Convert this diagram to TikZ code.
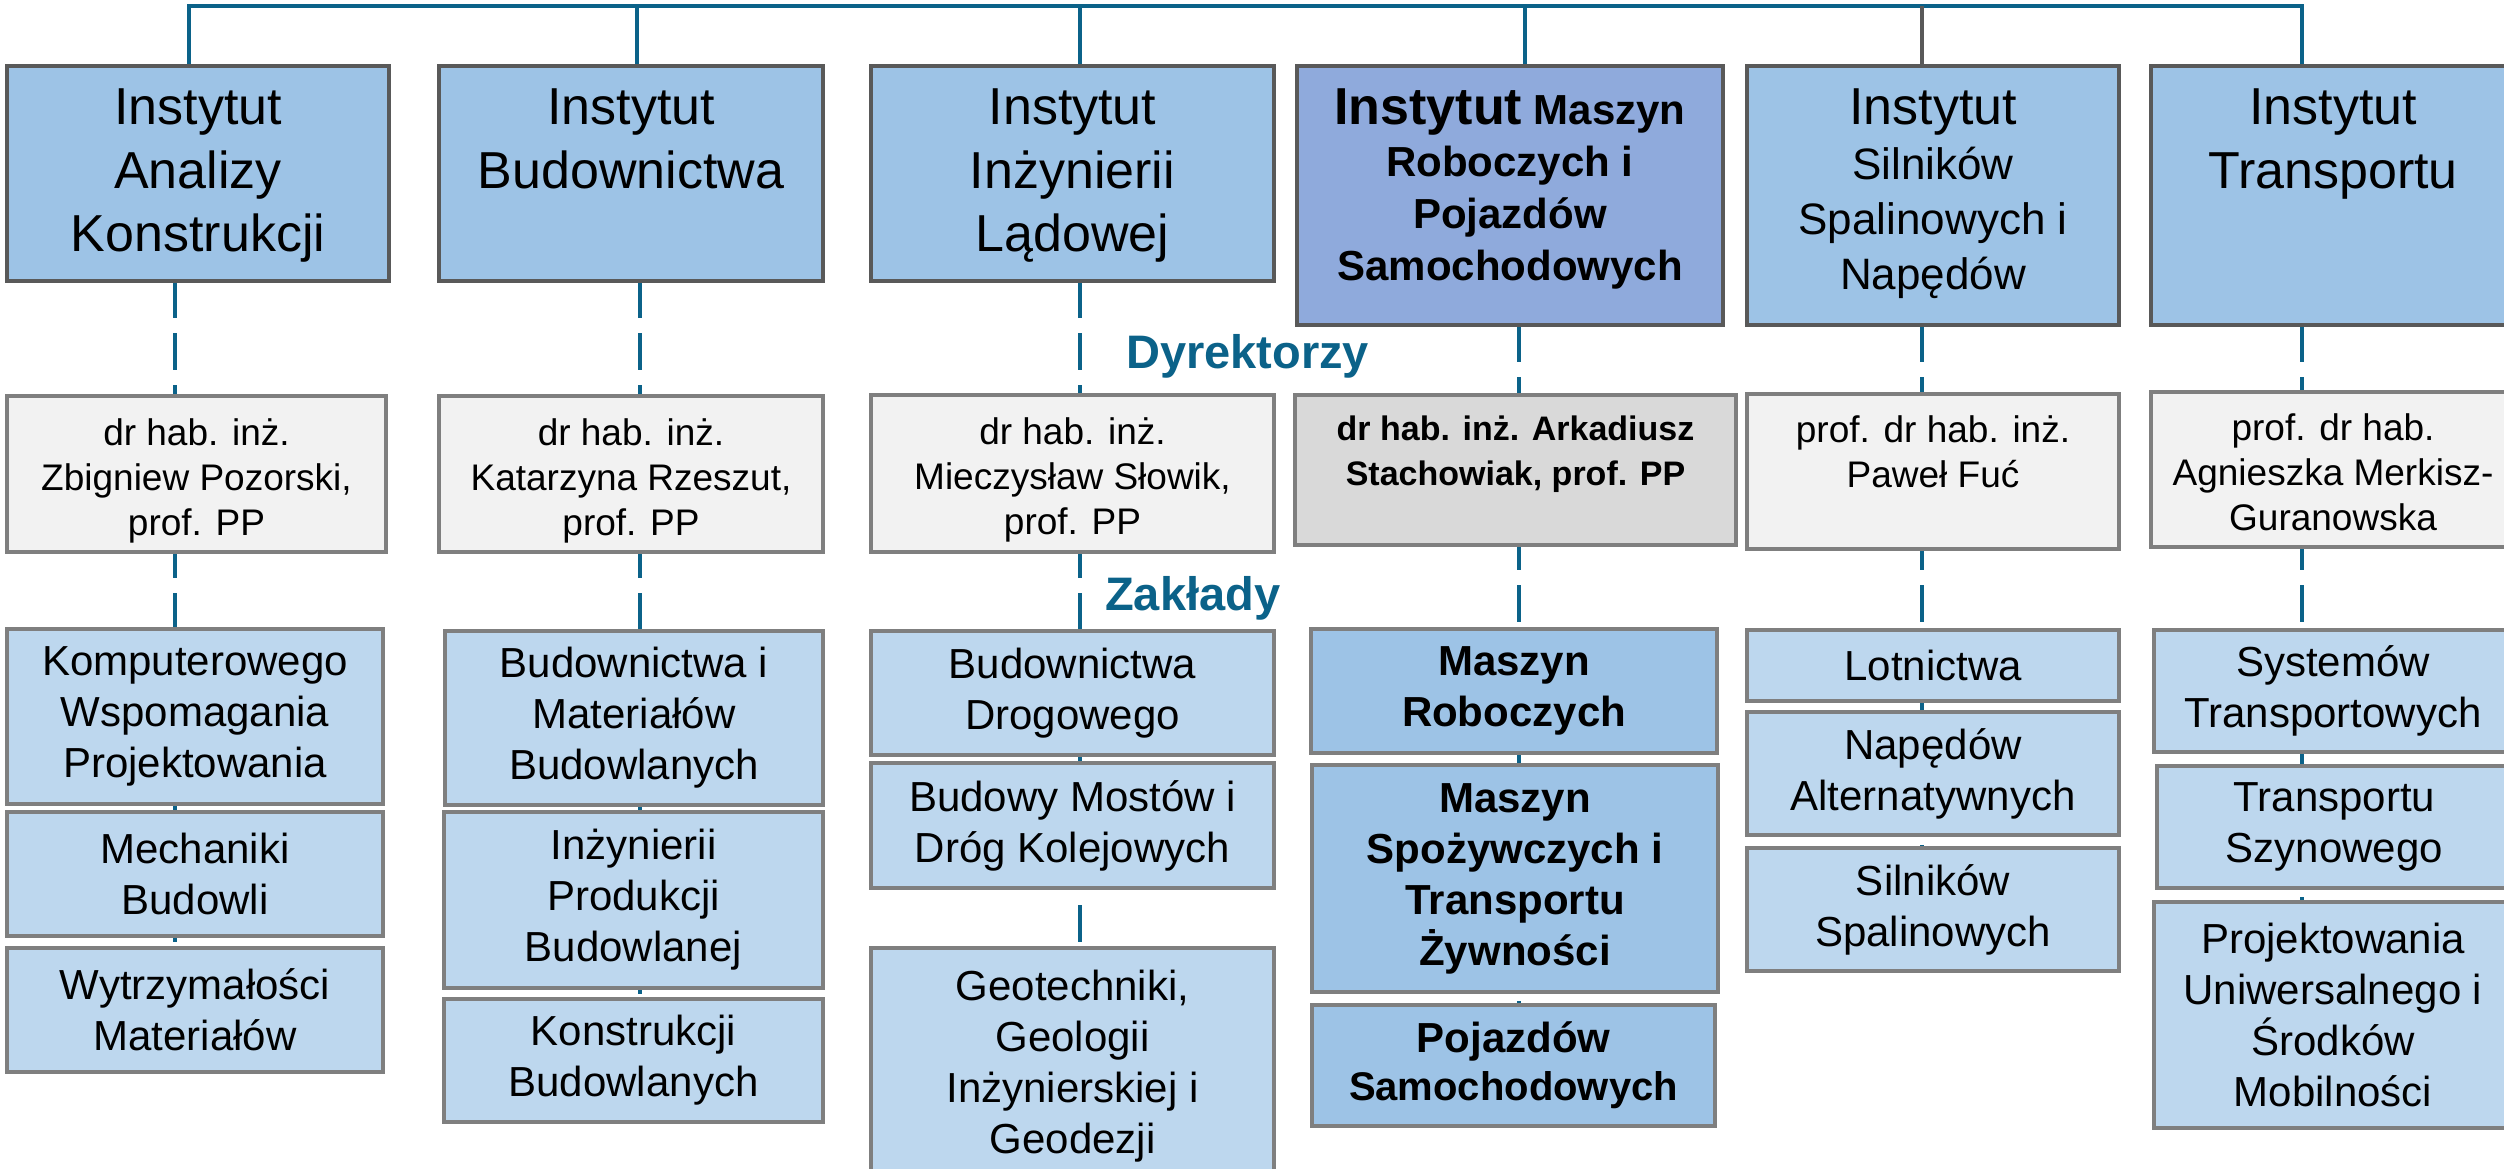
\documentclass[tikz,border=0pt]{standalone}
\usepackage{fontspec}
\setmainfont{Liberation Sans}
\usetikzlibrary{calc}
\pgfdeclarelayer{bg}
\pgfsetlayers{bg,main}
\definecolor{tealc}{RGB}{11,98,137}
\definecolor{instfill}{RGB}{157,195,230}
\definecolor{instBfill}{RGB}{143,170,220}
\definecolor{instdraw}{RGB}{89,89,89}
\definecolor{boxgray}{RGB}{127,127,127}
\definecolor{dirfill}{RGB}{242,242,242}
\definecolor{dirBfill}{RGB}{217,217,217}
\definecolor{zakfill}{RGB}{189,215,238}
\definecolor{zakBfill}{RGB}{157,195,230}
\newcommand\fntI{\fontsize{52}{63.5}\selectfont}
\newcommand\fntD{\fontsize{37}{45}\selectfont}
\newcommand\fntZ{\fontsize{42}{51}\selectfont}
\newcommand\fntT{\fontsize{47}{56}\selectfont\bfseries}
\newcommand\mybox[7]{\node[#2, minimum width={#5-#3}, minimum height={#6-#4}] (#1) at ({(#3+#5)/2},{(#4+#6)/2}) {#7};}
\newcommand\mytbox[8]{\node[#2, minimum width={#5-#3}, minimum height={#6-#4}, label={[toplab,#7]north:{#8}}] (#1) at ({(#3+#5)/2},{(#4+#6)/2}) {};}
\begin{document}
\begin{tikzpicture}[x=1pt,y=-1pt,
  basebox/.style={rectangle, inner sep=0pt, outer sep=0pt},
  inst/.style={basebox, draw=instdraw, fill=instfill, line width=4pt},
  instB/.style={inst, fill=instBfill},
  dir/.style={basebox, draw=boxgray, fill=dirfill, line width=3.5pt},
  dirB/.style={dir, fill=dirBfill},
  zak/.style={basebox, draw=boxgray, fill=zakfill, line width=3.5pt, align=center, font=\fntZ},
  zakB/.style={zak, fill=zakBfill, font=\fntZ\bfseries},
  toplab/.style={anchor=north, inner sep=0pt, align=center, text=black},
  ttl/.style={text=tealc, font=\fntT, inner sep=0pt},
  tealline/.style={draw=tealc, line width=4pt},
  grayline/.style={draw=instdraw, line width=4pt},
  dashline/.style={draw=tealc, line width=4pt, dash pattern=on 37pt off 15pt}
]
\useasboundingbox (0,0) rectangle (2504,1169);
\begin{pgfonlayer}{bg}
\fill[white] (0,0) rectangle (2504,1169);
\end{pgfonlayer}

% Institutes
\mytbox{i1}{inst}{7}{66}{389}{281}{yshift=-23pt,font=\fntI}{Instytut\\Analizy\\Konstrukcji}
\mytbox{i2}{inst}{439}{66}{823}{281}{yshift=-23pt,font=\fntI}{Instytut\\Budownictwa}
\mytbox{i3}{inst}{871}{66}{1274}{281}{yshift=-23pt,font=\fntI}{Instytut\\Inżynierii\\Lądowej}
\mytbox{i4}{instB}{1297}{66}{1723}{325}{yshift=-23pt,font=\fontsize{42}{52}\selectfont\bfseries}{{\fontsize{52}{52}\selectfont Instytut} Maszyn\\Roboczych i\\Pojazdów\\Samochodowych}
\mytbox{i5}{inst}{1747}{66}{2119}{325}{yshift=-23pt,font=\fontsize{44}{55}\selectfont}{{\fontsize{52}{55}\selectfont Instytut}\\Silników\\Spalinowych i\\Napędów}
\mytbox{i6}{inst}{2151}{66}{2515}{325}{yshift=-23pt,font=\fntI}{Instytut\\Transportu}

% Directors
\mytbox{d1}{dir}{7}{396}{386}{552}{yshift=-22pt,font=\fntD}{dr hab. inż.\\Zbigniew Pozorski,\\prof. PP}
\mytbox{d2}{dir}{439}{396}{823}{552}{yshift=-22pt,font=\fntD}{dr hab. inż.\\Katarzyna Rzeszut,\\prof. PP}
\mytbox{d3}{dir}{871}{395}{1274}{552}{yshift=-22pt,font=\fntD}{dr hab. inż.\\Mieczysław Słowik,\\prof. PP}
\mytbox{d4}{dirB}{1295}{395}{1736}{545}{yshift=-21pt,font=\fontsize{34}{45}\selectfont\bfseries}{dr hab. inż. Arkadiusz\\Stachowiak, prof. PP}
\mytbox{d5}{dir}{1747}{394}{2119}{549}{yshift=-21pt,font=\fntD}{prof. dr hab. inż.\\Paweł Fuć}
\mytbox{d6}{dir}{2151}{392}{2515}{547}{yshift=-21pt,font=\fntD}{prof. dr hab.\\Agnieszka Merkisz-\\Guranowska}

% Zaklady
\mybox{z1a}{zak}{7}{629}{383}{804}{Komputerowego\\Wspomagania\\Projektowania}
\mybox{z1b}{zak}{7}{812}{383}{936}{Mechaniki\\Budowli}
\mybox{z1c}{zak}{7}{948}{383}{1072}{Wytrzymałości\\Materiałów}
\mybox{z2a}{zak}{445}{631}{823}{805}{Budownictwa i\\Materiałów\\Budowlanych}
\mybox{z2b}{zak}{444}{812}{823}{988}{Inżynierii\\Produkcji\\Budowlanej}
\mybox{z2c}{zak}{444}{999}{823}{1122}{Konstrukcji\\Budowlanych}
\mybox{z3a}{zak}{871}{631}{1274}{755}{Budownictwa\\Drogowego}
\mybox{z3b}{zak}{871}{763}{1274}{888}{Budowy Mostów i\\Dróg Kolejowych}
\mybox{z3c}{zak}{871}{948}{1274}{1185}{Geotechniki,\\Geologii\\Inżynierskiej i\\Geodezji}
\mybox{z4a}{zakB}{1311}{629}{1717}{753}{Maszyn\\Roboczych}
\mybox{z4b}{zakB}{1312}{765}{1718}{992}{Maszyn\\Spożywczych i\\Transportu\\Żywności}
\mybox{z4c}{zakB,font=\fontsize{42}{48}\selectfont\bfseries}{1312}{1005}{1715}{1126}{Pojazdów\\{\fontsize{40}{48}\selectfont Samochodowych}}
\mybox{z5a}{zak}{1747}{630}{2119}{701}{Lotnictwa}
\mybox{z5b}{zak}{1747}{712}{2119}{835}{Napędów\\Alternatywnych}
\mybox{z5c}{zak}{1747}{848}{2119}{971}{Silników\\Spalinowych}
\mybox{z6a}{zak}{2154}{630}{2512}{752}{Systemów\\Transportowych}
\mybox{z6b}{zak}{2157}{766}{2512}{888}{Transportu\\Szynowego}
\mybox{z6c}{zak}{2154}{902}{2512}{1128}{Projektowania\\Uniwersalnego i\\Środków\\Mobilności}

% Section titles
\node[ttl, anchor=base west] (dyr) at (1126,368) {Dyrektorzy};
\node[ttl, anchor=base west] (zakl) at (1105,610) {Zakłady};

% Connectors
\coordinate (top) at (0,6);
\coordinate (t1) at (189,0);
\coordinate (t2) at (637,0);
\coordinate (t3) at (1080,0);
\coordinate (t4) at (1525,0);
\coordinate (t5) at (1922,0);
\coordinate (t6) at (2302,0);
\coordinate (c1) at (175,0);
\coordinate (c2) at (640,0);
\coordinate (c3) at (1080,0);
\coordinate (c4) at (1519,0);
\coordinate (c5) at (1922,0);
\coordinate (c6) at (2302,0);
\begin{pgfonlayer}{bg}
\draw[tealline] (t1 |- i1.north) -- (t1 |- top) -- (t6 |- top) -- (t6 |- i6.north);
\draw[tealline] (t2 |- top) -- (t2 |- i2.north);
\draw[tealline] (t3 |- top) -- (t3 |- i3.north);
\draw[tealline] (t4 |- top) -- (t4 |- i4.north);
\draw[grayline] (t5 |- top) -- (t5 |- i5.north);
\draw[dashline] (c1 |- i1.south) -- (c1 |- z1c.north);
\draw[dashline] (c2 |- i2.south) -- (c2 |- z2c.north);
\draw[dashline] (c3 |- i3.south) -- (c3 |- z3c.north);
\draw[dashline] (c4 |- i4.south) -- (c4 |- z4c.north);
\draw[dashline] (c5 |- i5.south) -- (c5 |- z5c.north);
\draw[dashline] (c6 |- i6.south) -- (c6 |- z6c.north);
\end{pgfonlayer}
\end{tikzpicture}
\end{document}
